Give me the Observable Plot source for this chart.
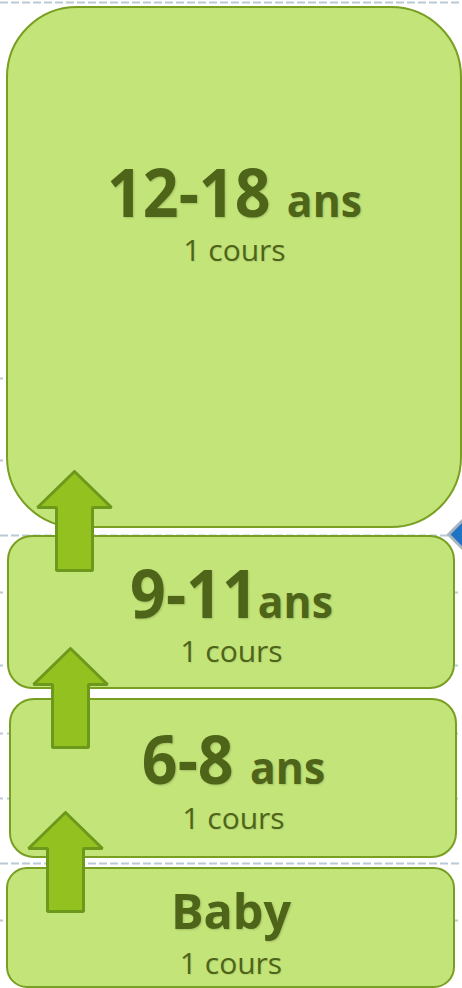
<!DOCTYPE html>
<html><head><meta charset="utf-8">
<script src="https://cdn.jsdelivr.net/npm/d3@7"></script>
<script src="https://cdn.jsdelivr.net/npm/@observablehq/plot@0.6"></script>
<style>
html,body{margin:0;padding:0;background:#fff;overflow:hidden}
#chart svg{display:block;overflow:hidden}
</style></head><body><div id="chart"></div>
<script>
// ---- data ----
const categories = ["12-18 ans", "9-11ans", "6-8 ans", "Baby"];
const courses = ["1 cours", "1 cours", "1 cours", "1 cours"];
const boxLeft = [7, 8, 10, 7];
const boxRight = [461, 454, 456, 454];
const boxTop = [7, 536, 699, 868];
const boxBottom = [527, 688, 857, 987];
const titleBaseline = [216, 617, 783, 928];
const subtitleBaseline = [260, 661, 828, 973];
const arrowX = [74, 70, 65];
const arrowTip = [471, 648, 812];
const arrowEnd = [570, 747, 911];
const dashedRules = [2, 535, 863];
const dottedRules = [378, 460, 592, 665, 733, 798, 920];
const markerX = [470];
const markerY = [534];

// ---- styles ----
const radii = [70, 24, 24, 20];
const titleSizes = [66, 66, 66, 49];
const titleSqueeze = [0.95, 0.95, 0.95, 0.99];
const suffixSize = 45;
const head = {h: 36, hw: 37, sw: 18};
const fillBox = "#C2E478", strokeBox = "#789F22";
const textColor = "#4E6419";

const boxes = categories.map((c, i) => ({
  label: c, sub: courses[i], x1: boxLeft[i], x2: boxRight[i], y1: boxTop[i], y2: boxBottom[i],
  cx: (boxLeft[i] + boxRight[i]) / 2, ty: titleBaseline[i], sy: subtitleBaseline[i], fs: titleSizes[i]
}));

const arrowPts = [];
arrowX.forEach((x, i) => {
  const t = arrowTip[i], b = arrowEnd[i];
  const pts = [[x, t], [x + head.hw, t + head.h], [x + head.sw, t + head.h], [x + head.sw, b],
               [x - head.sw, b], [x - head.sw, t + head.h], [x - head.hw, t + head.h], [x, t]];
  pts.forEach(([px, py]) => arrowPts.push({id: i, x: px, y: py}));
});

const diamondPts = [];
markerX.forEach((x, i) => {
  const y = markerY[i], s = 22;
  [[x - s, y], [x, y - s], [x + s, y], [x, y + s], [x - s, y]].forEach(([px, py]) => diamondPts.push({id: i, x: px, y: py}));
});

const marks = [
  Plot.ruleY(dashedRules, {stroke: "#B9C9D5", strokeWidth: 2.2, strokeDasharray: "8,3"}),
  Plot.ruleY(dottedRules, {stroke: "#B9C9D5", strokeWidth: 2.2, strokeDasharray: "3,4"}),
  Plot.line(diamondPts, {x: "x", y: "y", z: "id", fill: "#1F72C4", stroke: "#A9B4BE", strokeWidth: 3}),
];
boxes.forEach((b, i) => {
  marks.push(Plot.rect([b], {x1: "x1", x2: "x2", y1: "y1", y2: "y2", rx: radii[i], ry: radii[i],
    fill: fillBox, stroke: strokeBox, strokeWidth: 2}));
});
marks.push(Plot.line(arrowPts, {x: "x", y: "y", z: "id", fill: "#93C11F", stroke: "#6C981C", strokeWidth: 3, strokeLinejoin: "miter", curve: "linear"}));
marks.push(Plot.text(boxes, {x: "cx", y: "ty", text: "label", fontSize: "fs", fontWeight: "bold", fill: textColor,
  fontFamily: "'Open Sans', sans-serif", lineAnchor: "bottom"}));
marks.push(Plot.text(boxes, {x: "cx", y: "sy", text: "sub", fontSize: 30, fill: textColor,
  fontFamily: "'Open Sans', sans-serif", lineAnchor: "bottom"}));

const chart = Plot.plot({
  width: 462, height: 988, margin: 0,
  x: {domain: [0, 462], range: [0, 462], axis: null},
  y: {domain: [0, 988], range: [0, 988], axis: null},
  style: {background: "#fff", overflow: "hidden"},
  marks
});

document.getElementById("chart").append(chart);

const textGroups = chart.querySelectorAll('g[aria-label="text"]');
const titleGroup = textGroups[0], subGroup = textGroups[1];
if (titleGroup) {
  d3.select(titleGroup).selectAll("text").each(function(_, i) {
    const t = this.textContent;
    const m = t.match(/^(.*?\s?)(ans)$/);
    if (m) {
      const sel = d3.select(this);
      sel.text(null);
      sel.append("tspan").text(m[1]);
      sel.append("tspan").attr("font-size", suffixSize).text(m[2]);
    }
    const tr = this.getAttribute("transform") || "";
    const x = +(this.getAttribute("x") || 0), y = +(this.getAttribute("y") || 0);
    const s = titleSqueeze[i];
    this.setAttribute("transform", `${tr} translate(${x},${y}) scale(${s},1) translate(${-x},${-y})`);
    this.style.textShadow = "1px 1px 2px rgba(0,0,0,0.16)";
  });
}
if (subGroup) {
  d3.select(subGroup).selectAll("text").each(function() {
    this.style.textShadow = "1px 1px 1px rgba(0,0,0,0.08)";
  });
}
</script></body></html>
